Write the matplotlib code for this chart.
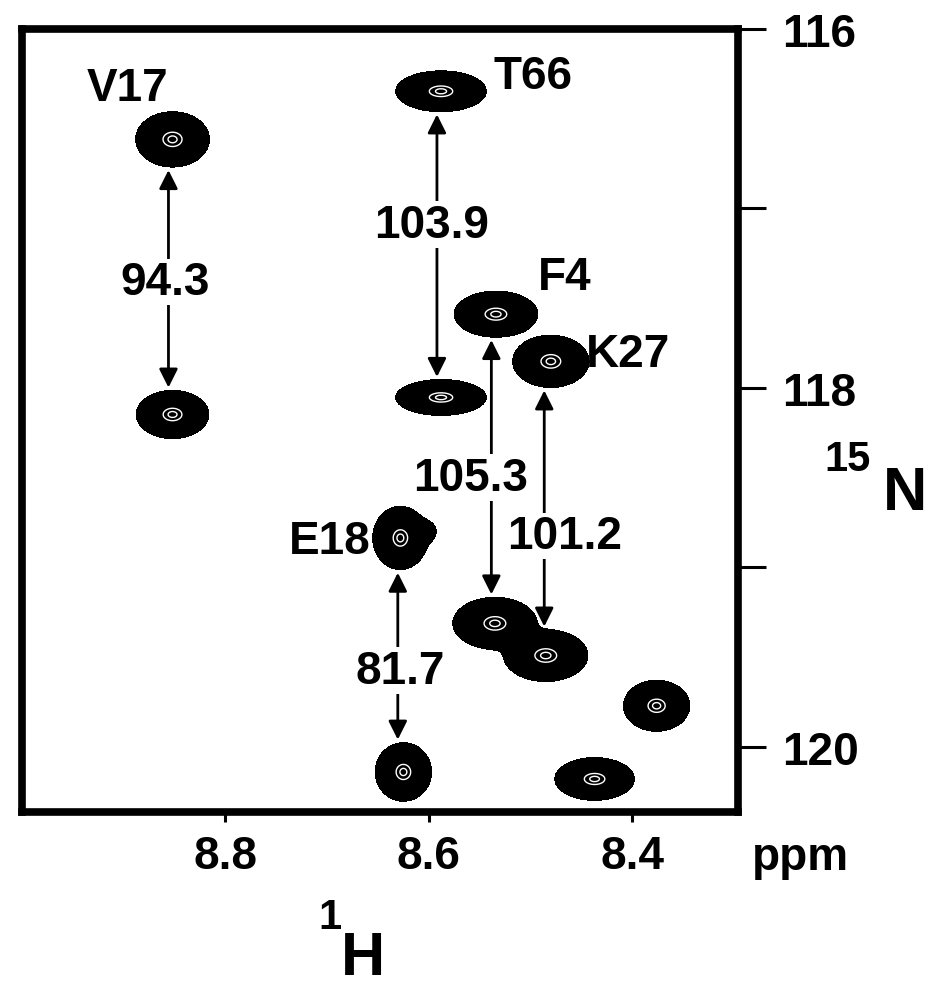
import matplotlib
matplotlib.use("Agg")
import matplotlib.pyplot as plt
import numpy as np

plt.rcParams['font.family'] = ['Liberation Sans', 'DejaVu Sans']
plt.rcParams['font.weight'] = 'bold'

# cross peaks: 1H shift, 15N shift, linewidths (ppm)
peak_h = [8.852, 8.852, 8.588, 8.588, 8.534, 8.480, 8.628, 8.625, 8.535, 8.485, 8.376, 8.437, 8.605]
peak_n = [116.615, 118.148, 116.347, 118.053, 117.589, 117.852, 118.836, 120.140, 119.312, 119.491, 119.771, 120.179, 118.80]
peak_sh = [0.0140, 0.0138, 0.0172, 0.0172, 0.0159, 0.0145, 0.0105, 0.0107, 0.0160, 0.0160, 0.0126, 0.0151, 0.0070]
peak_sn = [0.0596, 0.0518, 0.0440, 0.0386, 0.0496, 0.0562, 0.0680, 0.0630, 0.0560, 0.0560, 0.0550, 0.0460, 0.0350]
peak_amp = [1, 1, 1, 1, 1, 1, 1, 1, 1, 1, 1, 1, 0.15]

# residue labels
res_names = ["V17", "T66", "F4", "K27", "E18"]
res_h = [8.896, 8.498, 8.466, 8.404, 8.697]
res_n = [116.33, 116.263, 117.382, 117.813, 118.853]

# coupling pairs (upper peak index, lower peak index) and values
pair_top = [0, 2, 4, 5, 6]
pair_bot = [1, 3, 8, 9, 7]
coupling = ["94.3", "103.9", "105.3", "101.2", "81.7"]
coup_h = [8.859, 8.597, 8.559, 8.466, 8.628]
coup_n = [117.41, 117.09, 118.50, 118.825, 119.575]

xticks = [8.8, 8.6, 8.4]
yticks = [116, 117, 118, 119, 120]
ytick_labels = ["116", "", "118", "", "120"]

fig = plt.figure(figsize=(9.37, 9.87), dpi=100)
ax = fig.add_axes([0.0235, 0.1763, 0.7641, 0.7933])

hh = np.linspace(8.28, 9.02, 800)
nn = np.linspace(115.9, 120.5, 900)
H, N = np.meshgrid(hh, nn)
Z = np.zeros_like(H)
for h0, n0, sh, sn, a in zip(peak_h, peak_n, peak_sh, peak_sn, peak_amp):
    Z += a * np.exp(-0.5 * (((H - h0) / sh) ** 2 + ((N - n0) / sn) ** 2))

# solid black outer contours, a few faint white inner rings
ax.contourf(H, N, Z, levels=[0.035, 100], colors='k')
ax.contour(H, N, Z, levels=[0.8, 0.95], colors='w', linewidths=1.0)

for i, j, lab, lh, ln in zip(pair_top, pair_bot, coupling, coup_h, coup_n):
    x = 0.5 * (peak_h[i] + peak_h[j]) + 0.004
    y0 = peak_n[i] + 2.7 * peak_sn[i] + 0.01
    y1 = peak_n[j] - 2.7 * peak_sn[j] - 0.01
    ax.annotate('', xy=(x, y1), xytext=(x, y0),
                arrowprops=dict(arrowstyle='<|-|>', lw=2, color='k',
                                mutation_scale=28, shrinkA=0, shrinkB=0))
    ax.text(lh, ln, lab, fontsize=33, ha='center', va='center',
            bbox=dict(facecolor='white', edgecolor='none', pad=1))

for name, rh, rn in zip(res_names, res_h, res_n):
    ax.text(rh, rn, name, fontsize=33, ha='center', va='center')

ax.set_xlim(9.0, 8.296)
ax.set_ylim(120.363, 116.0)

ax.yaxis.tick_right()
ax.set_yticks(yticks)
ax.set_yticklabels(ytick_labels)
ax.set_xticks(xticks)
ax.set_xticklabels([f"{v:.1f}" for v in xticks])
ax.tick_params(axis='y', direction='out', length=20, width=2.2, pad=12, labelsize=33)
ax.tick_params(axis='x', direction='out', length=7, width=2.2, pad=9, labelsize=33)
for s in ax.spines.values():
    s.set_linewidth(5.5)

fig.text(800 / 937, 1 - 858 / 987, "ppm", fontsize=33, ha='center', va='center')
fig.text(330 / 937, 1 - 918 / 987, "1", fontsize=30, ha='center', va='center')
fig.text(363 / 937, 1 - 960 / 987, "H", fontsize=44, ha='center', va='center')
fig.text(848 / 937, 1 - 460 / 987, "15", fontsize=30, ha='center', va='center')
fig.text(905 / 937, 1 - 495 / 987, "N", fontsize=44, ha='center', va='center')

fig.savefig("out.png", dpi=100)
